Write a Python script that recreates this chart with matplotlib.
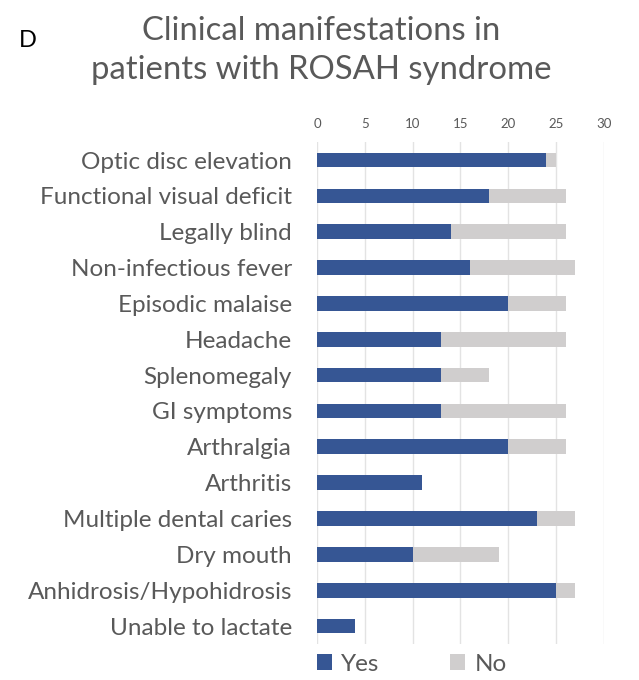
import matplotlib.pyplot as plt
import numpy as np

plt.rcParams['font.family'] = ['Lato', 'DejaVu Sans']

# Data
categories = ['Optic disc elevation', 'Functional visual deficit', 'Legally blind',
              'Non-infectious fever', 'Episodic malaise', 'Headache', 'Splenomegaly',
              'GI symptoms', 'Arthralgia', 'Arthritis', 'Multiple dental caries',
              'Dry mouth', 'Anhidrosis/Hypohidrosis', 'Unable to lactate']
yes_counts = [24, 18, 14, 16, 20, 13, 13, 13, 20, 11, 23, 10, 25, 4]
no_counts = [1, 8, 12, 11, 6, 13, 5, 13, 6, 0, 4, 9, 2, 0]
xticks = [0, 5, 10, 15, 20, 25, 30]

yes_color = '#365694'
no_color = '#d0cece'
text_color = '#595959'

fig = plt.figure(figsize=(6.39, 6.8), dpi=100)
ax = fig.add_axes([0.496, 0.053, 0.449, 0.738])

y = np.arange(len(categories))
ax.barh(y, yes_counts, height=0.41, color=yes_color, label='Yes', zorder=3)
ax.barh(y, no_counts, left=yes_counts, height=0.41, color=no_color, label='No', zorder=3)

ax.set_ylim(len(categories) - 0.5, -0.5)
ax.set_xlim(0, 30)
ax.set_xticks(xticks)
ax.xaxis.tick_top()
ax.tick_params(axis='x', length=0, pad=9, labelsize=9.5, labelcolor=text_color)
ax.set_yticks(y)
ax.set_yticklabels(categories)
ax.tick_params(axis='y', length=0, pad=18, labelsize=17.5, labelcolor=text_color)
ax.grid(axis='x', color='#e3e3e3', linewidth=1, zorder=0)
for s in ax.spines.values():
    s.set_visible(False)

fig.text(0.503, 0.926, 'Clinical manifestations in\npatients with ROSAH syndrome',
         ha='center', va='center', fontsize=23.7, color=text_color, linespacing=1.4)
fig.text(0.03, 0.94, 'D', fontsize=17, color='black', va='center')

leg = ax.legend(loc='center left', bbox_to_anchor=(0.0, -0.04), ncol=2, frameon=False,
                fontsize=17.5, handlelength=0.6, handleheight=0.6, columnspacing=2.9,
                handletextpad=0.4, borderpad=0, borderaxespad=0)
for t in leg.get_texts():
    t.set_color(text_color)

fig.savefig('out.png', dpi=100)
